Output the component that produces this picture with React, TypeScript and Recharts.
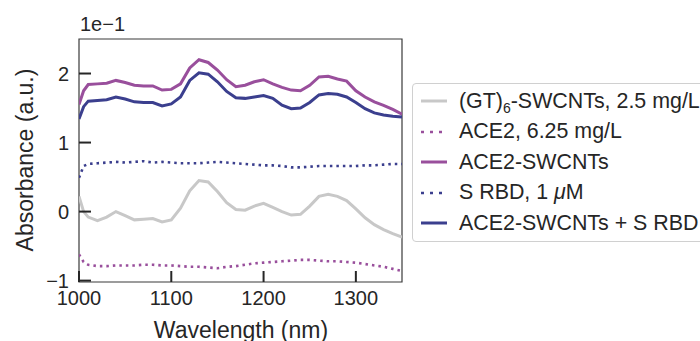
import { LineChart, Line, XAxis, YAxis, ReferenceArea } from 'recharts';

// wavelength grid (nm)
const wavelengths = [
  1000, 1005, 1010, 1020, 1030, 1040, 1050, 1060, 1070, 1080, 1090, 1100,
  1110, 1120, 1130, 1140, 1150, 1160, 1170, 1180, 1190, 1200, 1210, 1220,
  1230, 1240, 1250, 1260, 1270, 1280, 1290, 1300, 1310, 1320, 1330, 1340, 1350,
];

// absorbance, in units of 1e-1
const gtSwcnt = [
  0.22, 0.0, -0.08, -0.13, -0.08, 0.0, -0.06, -0.12, -0.11, -0.1, -0.15, -0.12,
  0.05, 0.3, 0.45, 0.43, 0.29, 0.13, 0.03, 0.02, 0.08, 0.12, 0.06, 0.0,
  -0.05, -0.04, 0.08, 0.22, 0.25, 0.22, 0.16, 0.04, -0.09, -0.19, -0.26, -0.32, -0.37,
];
const ace2 = [
  -0.62, -0.73, -0.77, -0.79, -0.79, -0.78, -0.78, -0.78, -0.77, -0.77, -0.78, -0.78,
  -0.79, -0.8, -0.8, -0.81, -0.82, -0.8, -0.79, -0.77, -0.75, -0.74, -0.73, -0.72,
  -0.71, -0.7, -0.7, -0.71, -0.72, -0.72, -0.73, -0.74, -0.76, -0.78, -0.8, -0.83, -0.86,
];
const ace2Swcnt = [
  1.55, 1.75, 1.84, 1.85, 1.86, 1.9, 1.87, 1.83, 1.82, 1.82, 1.76, 1.77,
  1.85, 2.08, 2.2, 2.16, 2.05, 1.91, 1.81, 1.83, 1.88, 1.91, 1.85, 1.8,
  1.76, 1.75, 1.83, 1.95, 1.96, 1.92, 1.89, 1.75, 1.66, 1.59, 1.54, 1.48, 1.41,
];
const sRbd = [
  0.49, 0.66, 0.69, 0.7, 0.71, 0.72, 0.71, 0.72, 0.73, 0.71, 0.72, 0.71,
  0.7, 0.7, 0.7, 0.71, 0.72, 0.71, 0.7, 0.69, 0.68, 0.67, 0.67, 0.66,
  0.64, 0.64, 0.65, 0.66, 0.66, 0.66, 0.66, 0.66, 0.67, 0.67, 0.68, 0.69, 0.69,
];
const ace2SwcntRbd = [
  1.34, 1.52, 1.6, 1.61, 1.62, 1.66, 1.63, 1.59, 1.58, 1.58, 1.53, 1.56,
  1.66, 1.9, 2.01, 1.99, 1.88, 1.74, 1.65, 1.64, 1.66, 1.68, 1.64, 1.54,
  1.49, 1.5, 1.58, 1.69, 1.71, 1.7, 1.66, 1.58, 1.49, 1.43, 1.4, 1.38, 1.37,
];

const xTicks = [1000, 1100, 1200, 1300];
const yTicks = [-1, 0, 1, 2];

const GREY = '#c8c8c8';
const PURPLE = '#994f9c';
const NAVY = '#3b3f8e';
const INK = '#262626';
const FONT = '"Liberation Sans", Arial, sans-serif';

const data = wavelengths.map((w, i) => ({
  w,
  gt: gtSwcnt[i],
  ace2: ace2[i],
  ace2Swcnt: ace2Swcnt[i],
  sRbd: sRbd[i],
  complex: ace2SwcntRbd[i],
}));

const series = [
  { key: 'gt', color: GREY, dotted: false, label: <>(GT)<sub style={{ fontSize: 14, verticalAlign: -5, lineHeight: 0 }}>6</sub>-SWCNTs, 2.5 mg/L</> },
  { key: 'ace2', color: PURPLE, dotted: true, label: <>ACE2, 6.25 mg/L</> },
  { key: 'ace2Swcnt', color: PURPLE, dotted: false, label: <>ACE2-SWCNTs</> },
  { key: 'sRbd', color: NAVY, dotted: true, label: <>S RBD, 1 <i>μ</i>M</> },
  { key: 'complex', color: NAVY, dotted: false, label: <>ACE2-SWCNTs + S RBD</> },
];

const fmt = (v: number) => (v < 0 ? `\u2212${Math.abs(v)}` : `${v}`);

// inward ticks, matplotlib style
const XTick = (props: any) => {
  const { x, y, payload } = props;
  const axisY = y - 8;
  return (
    <g>
      <line x1={x} x2={x} y1={axisY} y2={axisY - 11} stroke={INK} strokeWidth={2} />
      <text x={x} y={axisY + 23} textAnchor="middle" fontSize={20} fill={INK} fontFamily={FONT}>
        {payload.value}
      </text>
    </g>
  );
};

const YTick = (props: any) => {
  const { x, y, payload } = props;
  const axisX = x + 10;
  return (
    <g>
      <line x1={axisX} x2={axisX + 12} y1={y} y2={y} stroke={INK} strokeWidth={2} />
      <text x={axisX - 10} y={y + 7} textAnchor="end" fontSize={20} fill={INK} fontFamily={FONT}>
        {fmt(payload.value)}
      </text>
    </g>
  );
};

export default function App() {
  return (
    <div style={{ position: 'absolute', left: 0, top: 0, width: 700, height: 341, overflow: 'hidden', background: '#fff', fontFamily: FONT, color: INK }}>
      <LineChart width={700} height={341} data={data} margin={{ top: 39, right: 298, left: 19, bottom: 29 }}>
        <XAxis
          dataKey="w"
          type="number"
          domain={[1000, 1350]}
          ticks={xTicks}
          axisLine={false}
          tickLine={false}
          tickSize={0}
          tickMargin={8}
          tick={XTick}
          height={30}
          allowDataOverflow
        />
        <YAxis
          type="number"
          domain={[-1.02, 2.5]}
          ticks={yTicks}
          axisLine={false}
          tickLine={false}
          tickSize={0}
          tickMargin={10}
          tick={YTick}
          width={60}
          allowDataOverflow
        />
        <ReferenceArea x1={1000} x2={1350} y1={-1.02} y2={2.5} fill="none" stroke="#3a3a3a" strokeWidth={1.2} />
        {series.map((s) => (
          <Line
            key={s.key}
            dataKey={s.key}
            type="linear"
            stroke={s.color}
            strokeWidth={s.dotted ? 2.6 : 3}
            strokeDasharray={s.dotted ? '2.5 4' : undefined}
            dot={false}
            isAnimationActive={false}
          />
        ))}
      </LineChart>

      <div style={{ position: 'absolute', left: 80, top: 12, fontSize: 20, lineHeight: '24px' }}>1e{'\u2212'}1</div>
      <div style={{ position: 'absolute', left: 241, top: 317, transform: 'translateX(-50%)', fontSize: 23, lineHeight: '26px', whiteSpace: 'nowrap' }}>
        Wavelength (nm)
      </div>
      <div style={{ position: 'absolute', left: 25, top: 160, transform: 'translate(-50%, -50%) rotate(-90deg)', fontSize: 23, lineHeight: '26px', whiteSpace: 'nowrap' }}>
        Absorbance (a.u.)
      </div>

      <div style={{ position: 'absolute', left: 412, top: 83, width: 320, height: 159, border: '1px solid #d0d0d0', borderRadius: 4, boxSizing: 'border-box' }}>
        {series.map((s, i) => (
          <div key={s.key} style={{ position: 'absolute', left: 0, top: 2 + i * 30.5, height: 30, display: 'flex', alignItems: 'center', whiteSpace: 'nowrap' }}>
            <svg width={46} height={30} style={{ flex: 'none' }}>
              <line x1={8} x2={34} y1={15} y2={15} stroke={s.color} strokeWidth={s.dotted ? 2.6 : 3} strokeDasharray={s.dotted ? '3 6' : undefined} />
            </svg>
            <span style={{ fontSize: 21.4 }}>{s.label}</span>
          </div>
        ))}
      </div>
    </div>
  );
}
